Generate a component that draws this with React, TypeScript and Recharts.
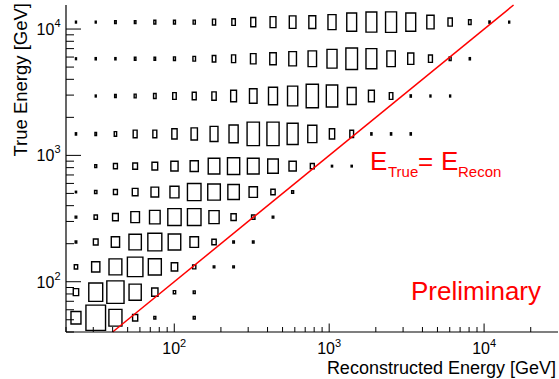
import React from 'react';
import { ScatterChart, Scatter, XAxis, YAxis, ReferenceArea, ReferenceLine } from 'recharts';

// Reconstructed-energy bin edges [GeV] (log-spaced)
const xBinEdges = [20, 26.9, 36.0, 48.3, 64.7, 86.7, 116, 156, 209, 279, 375, 502, 672, 901, 1207, 1618, 2168, 2904, 3892, 5215, 6989, 9363, 12547, 16813];
// True-energy bin edges [GeV]
const yBinEdges = [41.2, 65.3, 104.7, 164.1, 258.8, 407.4, 645.7, 1047, 2089, 4169, 8128, 15849];

// Relative box size per cell (fraction of the largest bin), one array per true-energy bin (bottom -> top)
const trueBin01 = [0.5, 1.0, 0.66, 0.26, 0.1, 0, 0.1];
const trueBin02 = [0.27, 0.71, 0.87, 0.62, 0.32, 0.12, 0.1];
const trueBin03 = [0.17, 0.42, 0.65, 0.79, 0.66, 0.33, 0.16, 0.08, 0.08];
const trueBin04 = [0.08, 0.24, 0.42, 0.63, 0.71, 0.64, 0.43, 0.22, 0.08, 0.08];
const trueBin05 = [0.08, 0.17, 0.29, 0.44, 0.54, 0.68, 0.68, 0.52, 0.27, 0.17, 0.08];
const trueBin06 = [0.06, 0.12, 0.2, 0.29, 0.39, 0.46, 0.68, 0.64, 0.59, 0.42, 0.22, 0.1];
const trueBin07 = [0, 0.1, 0.2, 0.24, 0.29, 0.37, 0.41, 0.59, 0.63, 0.59, 0.54, 0.37, 0.2, 0.06, 0.06];
const trueBin08 = [0.06, 0.08, 0.12, 0.2, 0.2, 0.27, 0.32, 0.4, 0.47, 0.62, 0.62, 0.56, 0.46, 0.27, 0.19, 0.06, 0.06, 0.06];
const trueBin09 = [0, 0.05, 0.08, 0.1, 0.13, 0.18, 0.2, 0.22, 0.3, 0.38, 0.46, 0.52, 0.62, 0.58, 0.45, 0.3, 0.18, 0.06, 0.05, 0.05];
const trueBin10 = [0.05, 0.06, 0.06, 0.08, 0.08, 0.1, 0.13, 0.18, 0.21, 0.28, 0.33, 0.39, 0.43, 0.51, 0.59, 0.55, 0.43, 0.31, 0.2, 0.1, 0.06];
const trueBin11 = [0.05, 0.05, 0.08, 0.08, 0.1, 0.1, 0.11, 0.16, 0.18, 0.25, 0.3, 0.34, 0.35, 0.41, 0.5, 0.55, 0.56, 0.5, 0.37, 0.22, 0.13, 0.06, 0.05];

const rows = [trueBin01, trueBin02, trueBin03, trueBin04, trueBin05, trueBin06, trueBin07, trueBin08, trueBin09, trueBin10, trueBin11];

const xTicks = [20, 30, 40, 50, 60, 70, 80, 90, 100, 200, 300, 400, 500, 600, 700, 800, 900, 1000, 2000, 3000, 4000, 5000, 6000, 7000, 8000, 9000, 10000, 20000];
const yTicks = [40, 50, 60, 70, 80, 90, 100, 200, 300, 400, 500, 600, 700, 800, 900, 1000, 2000, 3000, 4000, 5000, 6000, 7000, 8000, 9000, 10000];

const xDomain = [20, 30000];
const yDomain = [40, 15500];

const FONT = '"Liberation Sans", Arial, Helvetica, sans-serif';

const lg = Math.log10;

type Box = { key: string; x1: number; x2: number; y1: number; y2: number; cx: number; cy: number };
const boxes: Box[] = [];
rows.forEach((row, i) => {
  const yl = lg(yBinEdges[i]);
  const yh = lg(yBinEdges[i + 1]);
  const yc = (yl + yh) / 2;
  row.forEach((s, j) => {
    if (!s) return;
    const xl = lg(xBinEdges[j]);
    const xh = lg(xBinEdges[j + 1]);
    const xc = (xl + xh) / 2;
    const hx = (s * (xh - xl)) / 2;
    const hy = (s * (yh - yl)) / 2;
    boxes.push({
      key: `b${i}-${j}`,
      x1: Math.pow(10, xc - hx),
      x2: Math.pow(10, xc + hx),
      y1: Math.pow(10, yc - hy),
      y2: Math.pow(10, yc + hy),
      cx: Math.pow(10, xc),
      cy: Math.pow(10, yc),
    });
  });
});

const centers = boxes.map((b) => ({ x: b.cx, y: b.cy }));

const isDecade = (v: number) => Math.abs(lg(v) - Math.round(lg(v))) < 1e-9;

const XTick = (props: any) => {
  const { x, y, payload } = props;
  const v = payload.value;
  const major = isDecade(v);
  const len = major ? 8.5 : 5;
  return (
    <g>
      <line x1={x} x2={x} y1={y} y2={y - len} stroke="#000" strokeWidth={1} />
      {major && (
        <text x={x} y={y + 22} textAnchor="middle" fontSize={16} fontFamily={FONT} fill="#000">
          10<tspan dy={-7} fontSize={11}>{Math.round(lg(v))}</tspan>
        </text>
      )}
    </g>
  );
};

const YTick = (props: any) => {
  const { x, y, payload } = props;
  const v = payload.value;
  const major = isDecade(v);
  const len = major ? 15 : 8;
  return (
    <g>
      <line x1={x} x2={x + len} y1={y} y2={y} stroke="#000" strokeWidth={1} />
      {major && (
        <text x={x - 5.5} y={y + 6} textAnchor="end" fontSize={16} fontFamily={FONT} fill="#000">
          10<tspan dy={-8} fontSize={11}>{Math.round(lg(v))}</tspan>
        </text>
      )}
    </g>
  );
};

const NoShape = () => <g />;

export default function App() {
  return (
    <div style={{ position: 'absolute', left: 0, top: 0, width: 559, height: 379, background: '#fff' }}>
      <ScatterChart width={559} height={379} margin={{ top: 5, right: 1, bottom: 0, left: 0 }}>
        <XAxis
          xAxisId="main"
          dataKey="x"
          type="number"
          scale="log"
          domain={xDomain}
          ticks={xTicks}
          interval={0}
          allowDataOverflow
          height={47}
          tickSize={0}
          tickMargin={0}
          tickLine={false}
          axisLine={{ stroke: '#000', strokeWidth: 1.2 }}
          tick={XTick}
        />
        <XAxis
          xAxisId="top"
          dataKey="x"
          orientation="top"
          type="number"
          scale="log"
          domain={xDomain}
          allowDataOverflow
          height={0}
          tick={false}
          tickLine={false}
          axisLine={{ stroke: '#000', strokeWidth: 1 }}
        />
        <YAxis
          yAxisId="main"
          dataKey="y"
          type="number"
          scale="log"
          domain={yDomain}
          ticks={yTicks}
          interval={0}
          allowDataOverflow
          width={66}
          tickSize={0}
          tickMargin={0}
          tickLine={false}
          axisLine={{ stroke: '#000', strokeWidth: 1.2 }}
          tick={YTick}
        />
        <YAxis
          yAxisId="right"
          dataKey="y"
          orientation="right"
          type="number"
          scale="log"
          domain={yDomain}
          allowDataOverflow
          width={0}
          tick={false}
          tickLine={false}
          axisLine={{ stroke: '#000', strokeWidth: 1 }}
        />
        <Scatter xAxisId="main" yAxisId="main" data={centers} shape={NoShape} isAnimationActive={false} />
        <Scatter xAxisId="top" yAxisId="right" data={centers} shape={NoShape} isAnimationActive={false} />
        {boxes.map((b) => (
          <ReferenceArea
            key={b.key}
            xAxisId="main"
            yAxisId="main"
            x1={b.x1}
            x2={b.x2}
            y1={b.y1}
            y2={b.y2}
            ifOverflow="visible"
            stroke="#000"
            strokeWidth={1.4}
            fill="none"
            fillOpacity={0}
          />
        ))}
        <ReferenceLine
          xAxisId="main"
          yAxisId="main"
          segment={[{ x: yDomain[0], y: yDomain[0] }, { x: yDomain[1], y: yDomain[1] }]}
          stroke="#ff0000"
          strokeWidth={1.5}
          ifOverflow="visible"
        />
      </ScatterChart>
      <svg
        width={559}
        height={379}
        style={{ position: 'absolute', left: 0, top: 0, pointerEvents: 'none' }}
      >
        <text x={556} y={374} textAnchor="end" fontSize={18} fontFamily={FONT} fill="#000">
          Reconstructed Energy [GeV]
        </text>
        <text
          x={27}
          y={3}
          textAnchor="end"
          fontSize={18.5}
          fontFamily={FONT}
          fill="#000"
          transform="rotate(-90, 27, 3)"
        >
          True Energy [GeV]
        </text>
        <g fontFamily={FONT} fill="#ff0000">
          <text x={370} y={170} fontSize={26}>E</text>
          <text x={388} y={177} fontSize={15}>True</text>
          <text x={418} y={170} fontSize={26}>=</text>
          <text x={441} y={170} fontSize={26}>E</text>
          <text x={458} y={177} fontSize={15}>Recon</text>
          <text x={411} y={300} fontSize={26}>Preliminary</text>
        </g>
      </svg>
    </div>
  );
}
